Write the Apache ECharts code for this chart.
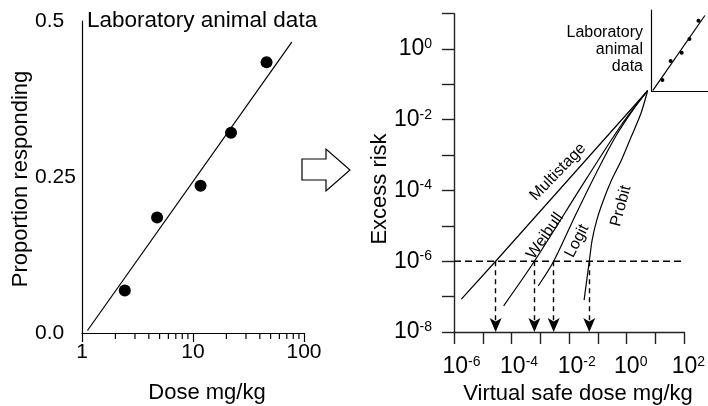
<!DOCTYPE html>
<html>
<head>
<meta charset="utf-8">
<script src="https://cdn.jsdelivr.net/npm/echarts@6/dist/echarts.min.js"></script>
<style>
  html, body { margin: 0; padding: 0; background: #fff; }
  #chart { width: 708px; height: 406px; }
</style>
</head>
<body>
<div id="chart"></div>
<script>
// 左图：实验动物数据（剂量 mg/kg，反应比例）
const doseMg = [2.43, 4.75, 11.7, 22, 46]
const proportion = [0.068, 0.185, 0.236, 0.321, 0.434]
const fitLine = [[1.12, 0.004], [77.6, 0.466]]

const leftMinorTicks = [2, 3, 4, 5, 6, 7, 8, 9, 20, 30, 40, 50, 60, 70, 80, 90]

// 右图：外推模型（剂量, 超额风险）
const multistage = [[1.8e-6, 8.5e-8], [2.8e-5, 1e-6], [5.3, 0.066]]
const weibull = [[5.3e-5, 5.5e-8], [6.2e-4, 1e-6], [0.042, 2.3e-4], [0.65, 7.1e-3], [5.3, 0.066]]
const logit = [[8.4e-4, 2.0e-7], [2.9e-3, 1e-6], [0.0165, 2.0e-5], [0.092, 3.4e-4], [0.44, 3.7e-3], [1.8, 0.021], [5.3, 0.066]]
const probit = [[0.033, 8e-8], [0.05, 1e-6], [0.063, 4e-6], [0.092, 1.5e-5], [0.156, 5.4e-5], [0.30, 2e-4], [0.65, 7.2e-4], [1.43, 3.3e-3], [3.1, 0.015], [5.3, 0.066]]

const riskLevel = 1e-6
const riskLineEnds = [1e-6, 80]
const safeDoses = [2.8e-5, 6.2e-4, 2.9e-3, 0.05]

// 坐标范围（10 的指数）
const leftXExp = [0, 2]
const rightXExp = [-6, 2]
const rightYExp = [-8, 1]

const FONT = 'Liberation Sans, Arial, Helvetica, sans-serif'
const INK = '#000'

const chart = echarts.init(document.getElementById('chart'))

// 指数轴标签：只标偶数次幂，带上标
const isEvenExp = (v) => {
  const e = Math.round(v)
  return Math.abs(v - e) < 1e-6 && e % 2 === 0
}
const expLabelY = (v) => (isEvenExp(v) ? '{b|10}{s|' + Math.round(v) + '}' : '')
const expLabelX = (v) => {
  if (!isEvenExp(v)) return ''
  const e = Math.round(v)
  return (e < 0 ? '{pn|}' : '{pp|}') + '{b|10}{s|' + e + '}'
}
const supRich = {
  b: { fontSize: 23, lineHeight: 24, fontFamily: FONT, color: INK },
  s: { fontSize: 14, lineHeight: 14, verticalAlign: 'top', fontFamily: FONT, color: INK },
  pn: { width: 15 },
  pp: { width: 8 },
}

// 画数据用的对数轴（隐藏）
const hiddenLog = (gridIndex, min, max, position) => ({
  gridIndex, type: 'log', logBase: 10, min, max, position, show: false,
})

const option = {
  animation: false,
  backgroundColor: '#fff',
  textStyle: { fontFamily: FONT },
  grid: [
    { left: 82, top: 21, width: 222, height: 312 },
    { left: 454, top: 13.6, width: 235.5, height: 318.4 },
    { left: 651.5, top: 10, width: 58.8, height: 81 },
  ],
  xAxis: [
    {
      gridIndex: 0, type: 'value', min: leftXExp[0], max: leftXExp[1], interval: 1, position: 'bottom',
      axisLine: { show: true, onZero: false, lineStyle: { color: INK, width: 1.2 } },
      axisTick: { show: true, length: 9, lineStyle: { color: INK, width: 1.2 } },
      axisLabel: {
        margin: 9, fontSize: 21, color: INK, fontFamily: FONT, showMinLabel: true, showMaxLabel: true,
        formatter: (v) => String(Math.round(Math.pow(10, v))),
      },
      splitLine: { show: false },
    },
    hiddenLog(0, 1, 100, 'top'),
    {
      gridIndex: 1, type: 'value', min: rightXExp[0], max: rightXExp[1], interval: 1, position: 'bottom',
      axisLine: { show: true, onZero: false, lineStyle: { color: '#222', width: 1.4 } },
      axisTick: { show: true, length: 12, lineStyle: { color: '#222', width: 1.4 } },
      axisLabel: { margin: 23, formatter: expLabelX, rich: supRich, showMinLabel: true, showMaxLabel: true },
      splitLine: { show: false },
    },
    hiddenLog(1, 1e-6, 100, 'top'),
    {
      gridIndex: 2, type: 'log', logBase: 10, min: 1, max: 100, position: 'bottom',
      axisLine: { show: true, onZero: false, lineStyle: { color: INK, width: 1.2 } },
      axisTick: { show: false },
      axisLabel: { show: false },
      splitLine: { show: false },
    },
  ],
  yAxis: [
    {
      gridIndex: 0, type: 'value', min: 0, max: 0.5, interval: 0.25, position: 'left',
      axisLine: { show: true, onZero: false, lineStyle: { color: INK, width: 1.2 } },
      axisTick: { show: false },
      axisLabel: {
        align: 'left', margin: 47, fontSize: 21, color: INK, fontFamily: FONT,
        formatter: (v) => (v === 0.25 ? '0.25' : v.toFixed(1)),
      },
      splitLine: { show: false },
    },
    {
      gridIndex: 1, type: 'value', min: rightYExp[0], max: rightYExp[1], interval: 1, position: 'left',
      axisLine: { show: true, onZero: false, lineStyle: { color: '#222', width: 1.4 } },
      axisTick: { show: true, length: 12, lineStyle: { color: '#222', width: 1.4 } },
      axisLabel: { margin: 22, formatter: expLabelY, rich: supRich, showMinLabel: true, showMaxLabel: true },
      splitLine: { show: false },
    },
    hiddenLog(1, 1e-8, 10, 'right'),
    {
      gridIndex: 2, type: 'value', min: 0, max: 0.5, position: 'left',
      axisLine: { show: true, onZero: false, lineStyle: { color: INK, width: 1.2 } },
      axisTick: { show: false },
      axisLabel: { show: false },
      splitLine: { show: false },
    },
  ],
  series: [
    {
      type: 'scatter', xAxisIndex: 1, yAxisIndex: 0,
      data: doseMg.map((d, i) => [d, proportion[i]]),
      symbolSize: 12, itemStyle: { color: INK, opacity: 1 },
    },
    {
      type: 'line', xAxisIndex: 1, yAxisIndex: 0, data: fitLine,
      showSymbol: false, lineStyle: { color: INK, width: 1.2 },
    },
    {
      // 左图 x 轴次刻度
      type: 'custom', xAxisIndex: 1, yAxisIndex: 0, silent: true, clip: false, z: 5,
      data: leftMinorTicks.map((v) => [v, 0]),
      renderItem: (params, api) => {
        const p = api.coord([api.value(0), api.value(1)])
        return {
          type: 'line',
          shape: { x1: p[0], y1: p[1], x2: p[0], y2: p[1] + 6 },
          style: { stroke: INK, lineWidth: 1.2 },
        }
      },
    },
    {
      name: 'Multistage', type: 'line', xAxisIndex: 3, yAxisIndex: 2, data: multistage,
      showSymbol: false, lineStyle: { color: INK, width: 1.2 },
    },
    {
      name: 'Weibull', type: 'line', xAxisIndex: 3, yAxisIndex: 2, data: weibull,
      showSymbol: false, smooth: 0.3, lineStyle: { color: INK, width: 1.2 },
    },
    {
      name: 'Logit', type: 'line', xAxisIndex: 3, yAxisIndex: 2, data: logit,
      showSymbol: false, smooth: 0.3, lineStyle: { color: INK, width: 1.2 },
    },
    {
      name: 'Probit', type: 'line', xAxisIndex: 3, yAxisIndex: 2, data: probit,
      showSymbol: false, smooth: 0.3, lineStyle: { color: INK, width: 1.2 },
    },
    {
      type: 'line', xAxisIndex: 3, yAxisIndex: 2,
      data: riskLineEnds.map((x) => [x, riskLevel]),
      showSymbol: false,
      lineStyle: { color: INK, width: 1.4, type: [7, 4] },
      markLine: {
        silent: true,
        symbol: ['none', 'arrow'],
        symbolSize: [9, 14],
        label: { show: false },
        lineStyle: { color: INK, width: 1.4, type: [5, 4] },
        data: safeDoses.map((x) => [{ coord: [x, riskLevel] }, { coord: [x, 1e-8] }]),
      },
    },
    {
      type: 'scatter', xAxisIndex: 4, yAxisIndex: 3,
      data: doseMg.map((d, i) => [d, proportion[i]]),
      symbolSize: 4, itemStyle: { color: INK, opacity: 1 },
    },
    {
      type: 'line', xAxisIndex: 4, yAxisIndex: 3, data: fitLine,
      showSymbol: false, lineStyle: { color: INK, width: 1.2 },
    },
  ],
  graphic: [
    // 中间的空心箭头
    {
      type: 'polygon',
      shape: { points: [[302, 159], [326, 159], [326, 149], [350, 170], [326, 191], [326, 180], [302, 180]] },
      style: { fill: '#fff', stroke: INK, lineWidth: 1.2 },
    },
    {
      type: 'text', x: 87, y: 21,
      style: { text: 'Laboratory animal data', font: '22.5px ' + FONT, fill: INK, align: 'left', verticalAlign: 'middle' },
    },
    {
      type: 'text', x: 21, y: 179, rotation: Math.PI / 2,
      style: { text: 'Proportion responding', font: '22px ' + FONT, fill: INK, align: 'center', verticalAlign: 'middle' },
    },
    {
      type: 'text', x: 207, y: 393,
      style: { text: 'Dose mg/kg', font: '22px ' + FONT, fill: INK, align: 'center', verticalAlign: 'middle' },
    },
    {
      type: 'text', x: 380, y: 189, rotation: Math.PI / 2,
      style: { text: 'Excess risk', font: '22px ' + FONT, fill: INK, align: 'center', verticalAlign: 'middle' },
    },
    {
      type: 'text', x: 578, y: 394,
      style: { text: 'Virtual safe dose mg/kg', font: '22px ' + FONT, fill: INK, align: 'center', verticalAlign: 'middle' },
    },
    {
      type: 'text', x: 643, y: 24,
      style: { text: 'Laboratory\nanimal\ndata', font: '16px ' + FONT, lineHeight: 17, fill: INK, align: 'right', verticalAlign: 'top' },
    },
    {
      type: 'text', x: 558, y: 172, rotation: 46 * Math.PI / 180,
      style: { text: 'Multistage', font: '16px ' + FONT, fill: INK, align: 'center', verticalAlign: 'middle' },
    },
    {
      type: 'text', x: 545, y: 236, rotation: 55 * Math.PI / 180,
      style: { text: 'Weibull', font: '16px ' + FONT, fill: INK, align: 'center', verticalAlign: 'middle' },
    },
    {
      type: 'text', x: 577, y: 241, rotation: 63 * Math.PI / 180,
      style: { text: 'Logit', font: '16px ' + FONT, fill: INK, align: 'center', verticalAlign: 'middle' },
    },
    {
      type: 'text', x: 621, y: 206, rotation: 75 * Math.PI / 180,
      style: { text: 'Probit', font: '16px ' + FONT, fill: INK, align: 'center', verticalAlign: 'middle' },
    },
  ],
}

chart.setOption(option)
</script>
</body>
</html>
